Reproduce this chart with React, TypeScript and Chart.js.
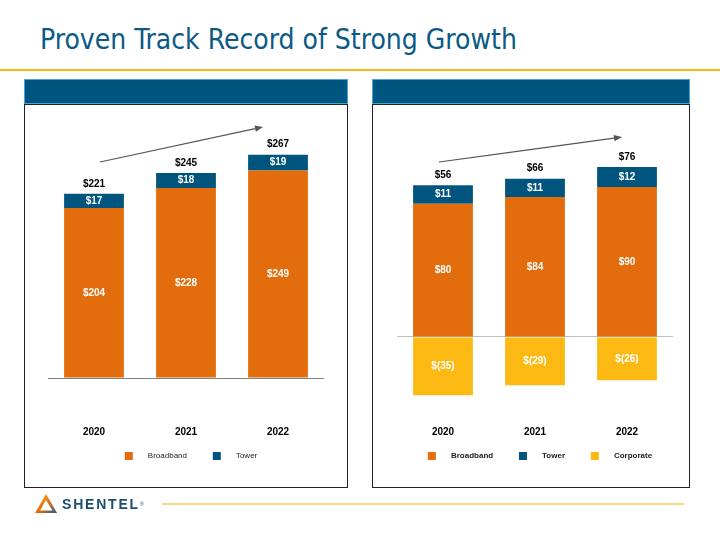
import React, { useEffect, useRef } from "react";
import { Chart, registerables } from "chart.js";
Chart.register(...registerables);

const years = ["2020", "2021", "2022"];
const leftSeriesNames = ["Broadband", "Tower"];
const leftBroadband = [204, 228, 249];
const leftTower = [17, 18, 19];
const leftTotals = [221, 245, 267];
const rightSeriesNames = ["Broadband", "Tower", "Corporate"];
const rightBroadband = [80, 84, 90];
const rightTower = [11, 11, 12];
const rightCorporate = [-35, -29, -26];
const rightTotals = [56, 66, 76];

const ORANGE = "#E36C0D";
const BLUE = "#00557F";
const YELLOW = "#FDB913";
const FONT = '"Liberation Sans", Arial, sans-serif';

const fmt = (v: number) => (v < 0 ? `$(${Math.abs(v)})` : `$${v}`);

function makeLabelsPlugin(totals: number[]) {
  return {
    id: "valueLabels",
    afterDatasetsDraw(chart: any) {
      const ctx = chart.ctx;
      ctx.save();
      ctx.textAlign = "center";
      ctx.textBaseline = "middle";
      ctx.font = `bold 10px ${FONT}`;
      chart.data.datasets.forEach((ds: any, di: number) => {
        const meta = chart.getDatasetMeta(di);
        meta.data.forEach((el: any, i: number) => {
          const v = ds.data[i];
          const { x, y, base } = el.getProps(["x", "y", "base"], true);
          ctx.fillStyle = "#fff";
          ctx.fillText(fmt(v), x, (y + base) / 2);
        });
      });
      const yScale = chart.scales.y;
      const xScale = chart.scales.x;
      totals.forEach((t, i) => {
        let pos = 0;
        chart.data.datasets.forEach((ds: any) => {
          const v = ds.data[i];
          if (v > 0) pos += v;
        });
        const py = yScale.getPixelForValue(pos) - 10;
        ctx.fillStyle = "#000";
        ctx.fillText(fmt(t), xScale.getPixelForValue(i), py);
      });
      ctx.restore();
    },
  };
}

const legendShiftPlugin = {
  id: "legendShift",
  afterLayout(chart: any) {
    const lg = chart.legend;
    if (lg) {
      lg.left += 5;
      lg.right += 5;
    }
  },
};

type PanelProps = {
  datasets: any[];
  totals: number[];
  yMin: number;
  yMax: number;
  padLeft: number;
  padRight: number;
  zeroColor: string;
  legendBold: boolean;
  left: number;
  top: number;
  width: number;
  height: number;
};

const LEAD = "     ";
const TRAIL = "        ";

function BarPanel(p: PanelProps) {
  const ref = useRef<HTMLCanvasElement>(null);
  useEffect(() => {
    if (!ref.current) return;
    const chart = new Chart(ref.current, {
      type: "bar",
      data: { labels: years, datasets: p.datasets },
      options: {
        animation: false,
        responsive: false,
        maintainAspectRatio: false,
        layout: { padding: { left: p.padLeft, right: p.padRight, top: 15, bottom: 17 } },
        datasets: { bar: { barPercentage: 0.65, categoryPercentage: 1 } },
        plugins: {
          legend: {
            position: "bottom",
            labels: {
              boxWidth: 8,
              boxHeight: 8,
              padding: 8,
              color: "#222",
              font: { size: 8, weight: p.legendBold ? "bold" : "normal", family: FONT },
              generateLabels: (chart: any) => {
                const n = chart.data.datasets.length;
                return chart.data.datasets.map((ds: any, i: number) => ({
                  text: LEAD + ds.label + (i < n - 1 ? TRAIL : ""),
                  fillStyle: ds.backgroundColor,
                  strokeStyle: ds.backgroundColor,
                  lineWidth: 0,
                  hidden: false,
                  datasetIndex: i,
                  fontColor: "#222",
                }));
              },
            },
          },
          tooltip: { enabled: false },
        },
        scales: {
          x: {
            stacked: true,
            grid: { display: false, drawTicks: false },
            border: { display: false },
            ticks: { padding: 12, color: "#000", font: { size: 10, weight: "bold", family: FONT } },
            afterFit: (s: any) => {
              s.height = 30;
            },
          },
          y: {
            stacked: true,
            min: p.yMin,
            max: p.yMax,
            ticks: { display: false },
            border: { display: false },
            afterBuildTicks: (s: any) => {
              s.ticks = [{ value: 0 }];
            },
            grid: {
              drawTicks: false,
              color: (c: any) => (c.tick && c.tick.value === 0 ? p.zeroColor : "transparent"),
              lineWidth: 1,
            },
          },
        },
      } as any,
      plugins: [makeLabelsPlugin(p.totals), legendShiftPlugin],
    });
    return () => chart.destroy();
  }, []);
  return (
    <canvas
      ref={ref}
      width={p.width}
      height={p.height}
      style={{ position: "absolute", left: p.left, top: p.top, width: p.width, height: p.height }}
    />
  );
}

function Arrow({ x1, y1, x2, y2 }: { x1: number; y1: number; x2: number; y2: number }) {
  const ang = Math.atan2(y2 - y1, x2 - x1);
  const L = 8;
  const W = 3.2;
  const bx = x2 - L * Math.cos(ang);
  const by = y2 - L * Math.sin(ang);
  const px = -Math.sin(ang) * W;
  const py = Math.cos(ang) * W;
  return (
    <g>
      <line x1={x1} y1={y1} x2={bx} y2={by} stroke="#555" strokeWidth={1.2} />
      <polygon points={`${x2},${y2} ${bx + px},${by + py} ${bx - px},${by - py}`} fill="#555" />
    </g>
  );
}

export default function App() {
  const leftDatasets = [
    { label: leftSeriesNames[0], data: leftBroadband, backgroundColor: ORANGE },
    { label: leftSeriesNames[1], data: leftTower, backgroundColor: BLUE },
  ];
  const rightDatasets = [
    { label: rightSeriesNames[0], data: rightBroadband, backgroundColor: ORANGE },
    { label: rightSeriesNames[1], data: rightTower, backgroundColor: BLUE },
    { label: rightSeriesNames[2], data: rightCorporate, backgroundColor: YELLOW },
  ];
  return (
    <div
      style={{
        position: "absolute",
        left: 0,
        top: 0,
        width: 720,
        height: 540,
        background: "#fff",
        overflow: "hidden",
        fontFamily: FONT,
      }}
    >
      <div
        style={{
          position: "absolute",
          left: 40,
          top: 26,
          fontFamily: '"DejaVu Sans Condensed", "DejaVu Sans", sans-serif',
          fontSize: 28,
          lineHeight: "28px",
          color: "#0B5A86",
          whiteSpace: "nowrap",
        }}
      >
        Proven Track Record of Strong Growth
      </div>
      <div style={{ position: "absolute", left: 0, top: 69, width: 720, height: 2, background: "#FBB616" }} />

      <div
        style={{
          position: "absolute",
          left: 24,
          top: 79,
          width: 324,
          height: 25,
          background: "#00557F",
          border: "1px solid #4AA3D8",
          boxSizing: "border-box",
        }}
      />
      <div
        style={{
          position: "absolute",
          left: 24,
          top: 104,
          width: 324,
          height: 384,
          border: "1px solid #222",
          boxSizing: "border-box",
        }}
      />
      <div
        style={{
          position: "absolute",
          left: 372,
          top: 79,
          width: 318,
          height: 25,
          background: "#00557F",
          border: "1px solid #4AA3D8",
          boxSizing: "border-box",
        }}
      />
      <div
        style={{
          position: "absolute",
          left: 372,
          top: 104,
          width: 318,
          height: 384,
          border: "1px solid #222",
          boxSizing: "border-box",
        }}
      />

      <BarPanel
        datasets={leftDatasets}
        totals={leftTotals}
        yMin={-43.2}
        yMax={309.6}
        padLeft={23}
        padRight={23}
        zeroColor="#808080"
        legendBold={false}
        left={25}
        top={105}
        width={322}
        height={382}
      />
      <BarPanel
        datasets={rightDatasets}
        totals={rightTotals}
        yMin={-46.2}
        yMax={130.2}
        padLeft={24}
        padRight={16}
        zeroColor="#C0C0C0"
        legendBold={true}
        left={373}
        top={105}
        width={316}
        height={382}
      />

      <svg style={{ position: "absolute", left: 0, top: 0 }} width={720} height={540}>
        <Arrow x1={100} y1={162} x2={263} y2={127} />
        <Arrow x1={439} y1={162} x2={622} y2={137} />
        <defs>
          <linearGradient id="tri" x1="0" y1="0" x2="1" y2="1">
            <stop offset="0" stopColor="#FDB913" />
            <stop offset="0.55" stopColor="#E36C0D" />
            <stop offset="1" stopColor="#1D5D8A" />
          </linearGradient>
        </defs>
        <polygon points="46,494 35,513 57,513" fill="url(#tri)" />
        <polygon points="46,500 40,510.5 52.5,510.5" fill="#fff" />
        <line x1={162} y1={504} x2={684} y2={504} stroke="#FDD67E" strokeWidth={2} />
      </svg>
      <div
        style={{
          position: "absolute",
          left: 62,
          top: 497,
          fontFamily: FONT,
          fontWeight: "bold",
          fontSize: 14,
          lineHeight: "14px",
          letterSpacing: 1.8,
          color: "#1D4E72",
          whiteSpace: "nowrap",
        }}
      >
        SHENTEL
        <span style={{ fontSize: 5, verticalAlign: "top", letterSpacing: 0, fontWeight: "normal" }}>®</span>
      </div>
    </div>
  );
}
